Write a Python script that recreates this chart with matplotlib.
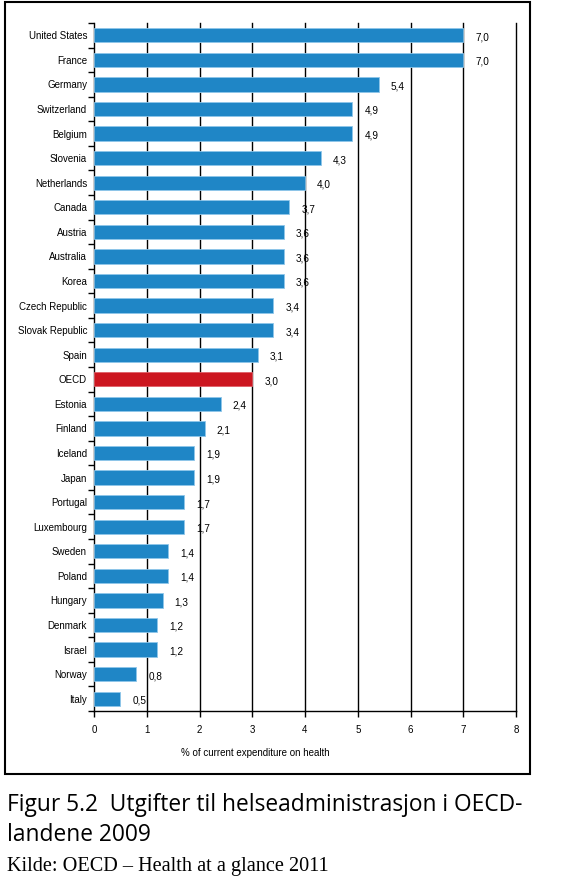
import matplotlib
matplotlib.use("Agg")
import matplotlib.pyplot as plt
import matplotlib.patches as mpatches
import numpy as np

countries = ["United States", "France", "Germany", "Switzerland", "Belgium", "Slovenia",
             "Netherlands", "Canada", "Austria", "Australia", "Korea", "Czech Republic",
             "Slovak Republic", "Spain", "OECD", "Estonia", "Finland", "Iceland", "Japan",
             "Portugal", "Luxembourg", "Sweden", "Poland", "Hungary", "Denmark", "Israel",
             "Norway", "Italy"]
values = [7.0, 7.0, 5.4, 4.9, 4.9, 4.3, 4.0, 3.7, 3.6, 3.6, 3.6, 3.4, 3.4, 3.1, 3.0,
          2.4, 2.1, 1.9, 1.9, 1.7, 1.7, 1.4, 1.4, 1.3, 1.2, 1.2, 0.8, 0.5]
xticks = [0, 1, 2, 3, 4, 5, 6, 7, 8]

blue = "#1f86c6"
red = "#cc1620"
fnt = "Liberation Sans"

W, H = 568, 888
fig = plt.figure(figsize=(W / 100, H / 100), dpi=100)

# outer frame around the chart
fig.patches.append(mpatches.Rectangle((5 / W, 1 - 774 / H), 525 / W, 772 / H,
                                      transform=fig.transFigure, fill=False,
                                      edgecolor="black", linewidth=1.5))

ax = fig.add_axes([94 / W, 1 - 711 / H, 422 / W, 688 / H])
y = np.arange(len(countries))
colors = [red if c == "OECD" else blue for c in countries]
ax.barh(y, values, height=0.58, color=colors,
        edgecolor=["#8fc6ea" if c != red else "#e06068" for c in colors],
        linewidth=0.6, zorder=3)

for yi, v in zip(y, values):
    ax.text(v + 0.23, yi + 0.08, f"{v:.1f}".replace(".", ","), va="center", ha="left",
            fontsize=7.2, family=fnt, zorder=4)

ax.set_xlim(0, 8)
ax.set_ylim(len(countries) - 0.5, -0.5)
ax.set_xticks(xticks)
ax.set_xticklabels([str(t) for t in xticks], fontsize=7, family=fnt)
ax.set_yticks(y)
ax.set_yticklabels(countries, fontsize=7, family=fnt)
ax.set_yticks(np.arange(len(countries) + 1) - 0.5, minor=True)
ax.tick_params(axis="y", which="major", length=0, pad=5)
ax.tick_params(axis="y", which="minor", length=4, width=1, direction="out")
ax.tick_params(axis="x", which="major", length=4, width=1, direction="out", pad=6)
for t in xticks[1:]:
    ax.axvline(t, color="black", linewidth=1, zorder=1, clip_on=False)
for s in ["top", "right"]:
    ax.spines[s].set_visible(False)
for s in ["left", "bottom"]:
    ax.spines[s].set_linewidth(1)

fig.text(255 / W, 1 - 753 / H, "% of current expenditure on health", ha="center", va="center",
         fontsize=7, family=fnt)

fig.text(7 / W, 1 - 811 / H, "Figur 5.2  Utgifter til helseadministrasjon i OECD-",
         ha="left", va="baseline", fontsize=16.4, family="Open Sans")
fig.text(7 / W, 1 - 841 / H, "landene 2009",
         ha="left", va="baseline", fontsize=16.4, family="Open Sans")
fig.text(7 / W, 1 - 871 / H, "Kilde: OECD \u2013 Health at a glance 2011", ha="left", va="baseline",
         fontsize=14.6, family="Liberation Serif")

fig.savefig("out.png", dpi=100)
